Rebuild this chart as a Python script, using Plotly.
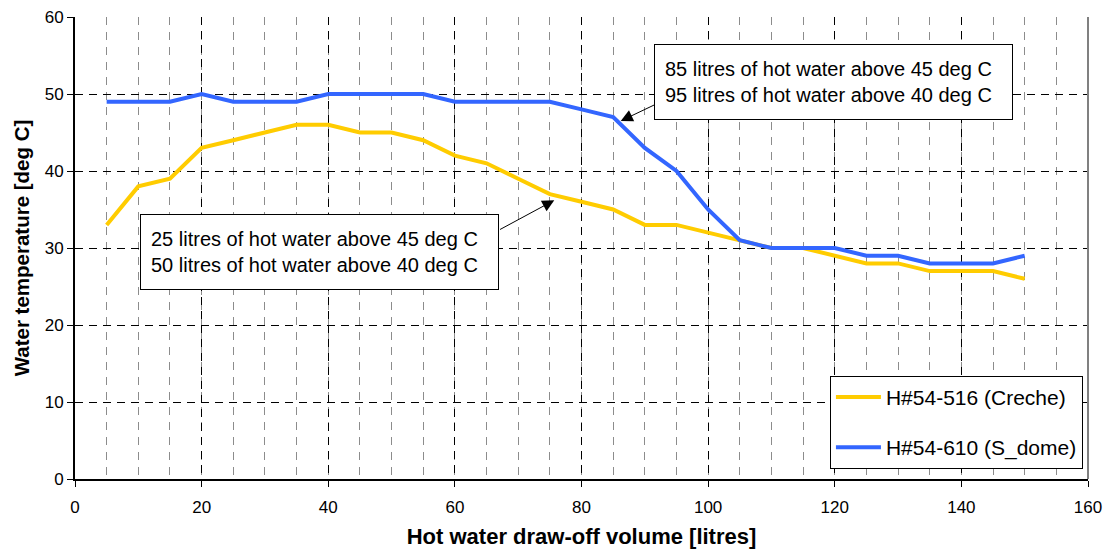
import plotly.graph_objects as go

# ---- data ----
volume = [5, 10, 15, 20, 25, 30, 35, 40, 45, 50, 55, 60, 65, 70, 75,
          80, 85, 90, 95, 100, 105, 110, 115, 120, 125, 130, 135, 140, 145, 150]
creche = [33, 38, 39, 43, 44, 45, 46, 46, 45, 45, 44, 42, 41, 39, 37,
          36, 35, 33, 33, 32, 31, 30, 30, 29, 28, 28, 27, 27, 27, 26]
s_dome = [49, 49, 49, 50, 49, 49, 49, 50, 50, 50, 50, 49, 49, 49, 49,
          48, 47, 43, 40, 35, 31, 30, 30, 30, 29, 29, 28, 28, 28, 29]
series_names = ["H#54-516 (Creche)", "H#54-610 (S_dome)"]
x_ticks = [0, 20, 40, 60, 80, 100, 120, 140, 160]
y_ticks = [0, 10, 20, 30, 40, 50, 60]

note1 = "25 litres of hot water above 45 deg C<br>50 litres of hot water above 40 deg C"
note2 = "85 litres of hot water above 45 deg C<br>95 litres of hot water above 40 deg C"
note1_pos = (38.6, 29.5)
note2_pos = (119.8, 51.6)
arrow1 = ((66.9, 32.3), (75.7, 36.2))   # (tail, head)
arrow2 = ((91.8, 48.7), (86.2, 46.5))

FONT = "Liberation Sans, Arial, sans-serif"

fig = go.Figure()
fig.add_trace(go.Scatter(x=volume, y=creche, mode="lines", name=series_names[0],
                         line=dict(color="#FFCC00", width=4), legendgroup="a"))
fig.add_trace(go.Scatter(x=volume, y=s_dome, mode="lines", name=series_names[1],
                         line=dict(color="#3366FF", width=4), legendgroup="b"))

for txt, (ax_, ay_) in [(note1, note1_pos), (note2, note2_pos)]:
    fig.add_annotation(x=ax_, y=ay_, xref="x", yref="y", text=txt, showarrow=False,
                       font=dict(family=FONT, size=20, color="black"), align="left",
                       bgcolor="white", bordercolor="black", borderwidth=1,
                       borderpad=10, width=337, height=54)

for (tail, head) in [arrow1, arrow2]:
    fig.add_annotation(x=head[0], y=head[1], ax=tail[0], ay=tail[1],
                       xref="x", yref="y", axref="x", ayref="y", text="",
                       showarrow=True, arrowhead=2, arrowsize=2.4, arrowwidth=1,
                       arrowcolor="black", standoff=0, startstandoff=0)

# right frame line
fig.add_shape(type="line", xref="paper", yref="paper", x0=1, x1=1, y0=0, y1=1,
              line=dict(color="#808080", width=2))

fig.update_layout(
    width=1104, height=549,
    margin=dict(l=75, r=16, t=17, b=70),
    plot_bgcolor="white", paper_bgcolor="white",
    font=dict(family=FONT, size=17, color="black"),
    legend=dict(x=0.995, y=0.022, xanchor="right", yanchor="bottom",
                bgcolor="white", bordercolor="black", borderwidth=1,
                font=dict(family=FONT, size=21, color="black"),
                tracegroupgap=20, traceorder="grouped",
                itemwidth=45, entrywidth=245, entrywidthmode="pixels"),
    xaxis=dict(range=[0, 160], tickvals=x_ticks, showline=True, linecolor="black",
               linewidth=2, ticks="outside", ticklen=6, tickcolor="black",
               ticklabelstandoff=6,
               showgrid=True, gridcolor="black", griddash="8px,6px", gridwidth=1,
               zeroline=False, automargin=False,
               minor=dict(dtick=5, showgrid=True, gridcolor="#8c8c8c",
                          griddash="8px,7px", gridwidth=1),
               title=dict(text="Hot water draw-off volume [litres]",
                          font=dict(family=FONT, size=22, weight="bold"),
                          standoff=13)),
    yaxis=dict(range=[0, 60], tickvals=y_ticks, showline=True, linecolor="black",
               linewidth=2, ticks="outside", ticklen=6, tickcolor="black",
               showgrid=True, gridcolor="black", griddash="8px,6px", gridwidth=1,
               zeroline=False, automargin=False,
               title=dict(text="Water temperature [deg C]",
                          font=dict(family=FONT, size=20.5, weight="bold"),
                          standoff=10)),
)

fig.write_html("out.html", config={"displayModeBar": False},
               post_script="document.body.style.margin='0';")
